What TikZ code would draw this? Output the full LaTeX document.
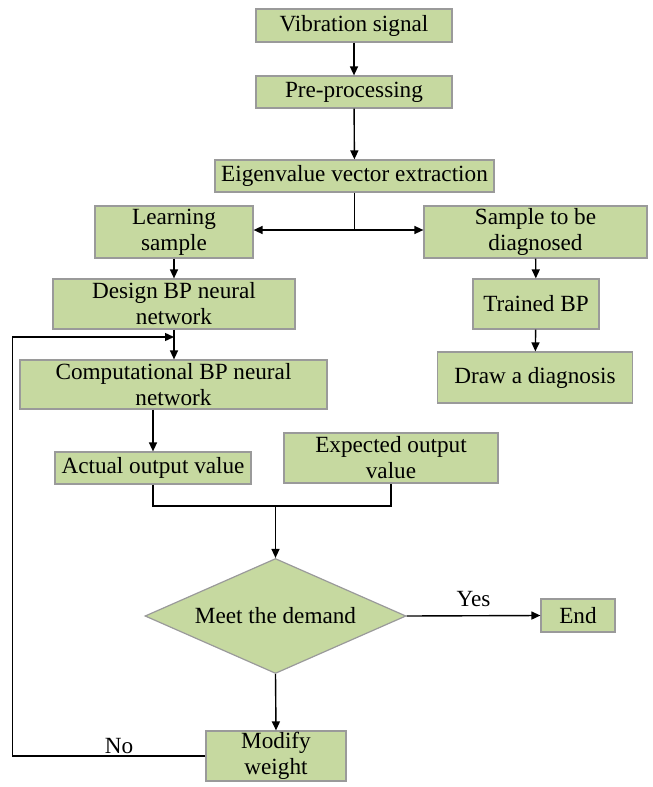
\documentclass[tikz,border=0pt]{standalone}
\usepackage{fontspec}
\setmainfont{Liberation Serif}
\usetikzlibrary{arrows.meta,shapes.geometric}
\definecolor{boxfill}{HTML}{C6D9A0}
\definecolor{boxline}{HTML}{9A9A9A}
\tikzset{
  box/.style={rectangle, draw=boxline, fill=boxfill, line width=1.2pt, inner sep=0pt, align=center,
    font=\fontsize{23.2}{26}\selectfont},
  decision/.style={diamond, draw=boxline, fill=boxfill, line width=1.2pt, inner sep=0pt, aspect=2.27,
    minimum width=261pt, minimum height=115pt, font=\fontsize{23.2}{26}\selectfont},
  conn/.style={line width=1.4pt, draw=black},
  arr/.style={conn, -{Triangle[length=9pt,width=8pt]}},
  lbl/.style={font=\fontsize{23.2}{26}\selectfont, inner sep=0pt},
}
\begin{document}
\begin{tikzpicture}[x=1pt,y=-1pt]
\useasboundingbox (0,0) rectangle (653,787);
\node[box, minimum width=196pt, minimum height=33pt] (vib) at (354,25.5) {Vibration signal};
\node[box, minimum width=196pt, minimum height=32pt] (pre) at (354,92) {Pre-processing};
\node[box, minimum width=279pt, minimum height=32pt] (eig) at (354.5,176) {Eigenvalue vector extraction};
\node[box, minimum width=158pt, minimum height=52pt] (learn) at (174,232) {Learning\\sample};
\node[box, minimum width=223pt, minimum height=52pt] (samp) at (535.5,232) {Sample to be\\diagnosed};
\node[box, minimum width=242pt, minimum height=50pt] (design) at (174,304) {Design BP neural\\network};
\node[box, minimum width=126pt, minimum height=50pt] (trained) at (536,304) {Trained BP};
\node[box, minimum width=307pt, minimum height=49pt] (comp) at (173.5,384.5) {Computational BP neural\\network};
\node[box, minimum width=195pt, minimum height=51pt] (draw) at (535,377.5) {Draw a diagnosis};
\node[box, minimum width=196pt, minimum height=32pt] (actual) at (153,468) {Actual output value};
\node[box, minimum width=214pt, minimum height=50pt] (expected) at (391,458) {Expected output\\value};
\node[decision] (dia) at (275.5,616) {Meet the demand};
\node[box, minimum width=74pt, minimum height=33pt] (end) at (578,615.5) {End};
\node[box, minimum width=140pt, minimum height=50pt] (mod) at (276,756) {Modify\\weight};

\coordinate (split) at (354.5,230);
\coordinate (merge) at (275.5,506);
\coordinate (loopc) at (12.5,337);

\draw[arr] (vib) -- (pre);
\draw[arr] (pre) -- (eig);
\draw[conn] (eig.south) -- (split);
\draw[arr] (split) -- (split -| learn.east);
\draw[arr] (split) -- (split -| samp.west);
\draw[arr] (learn) -- (design);
\draw[arr] (samp) -- (trained);
\draw[arr] (trained) -- (draw);
\draw[arr] (design.south) -- (design.south |- comp.north);
\draw[arr] (actual.north |- comp.south) -- (actual.north);
\draw[conn] (actual.south) |- (merge) -| (expected.south);
\draw[arr] (merge) -- (dia.north);
\draw[arr] (dia.east) -- node[lbl, above=8pt] (yes) {Yes} (end.west);
\draw[arr] (dia.south) -- (mod.north);
\draw[arr] (mod.west) -| (loopc) -- (loopc -| design.south);
\node[lbl] (no) at (119,746) {No};
\end{tikzpicture}
\end{document}
